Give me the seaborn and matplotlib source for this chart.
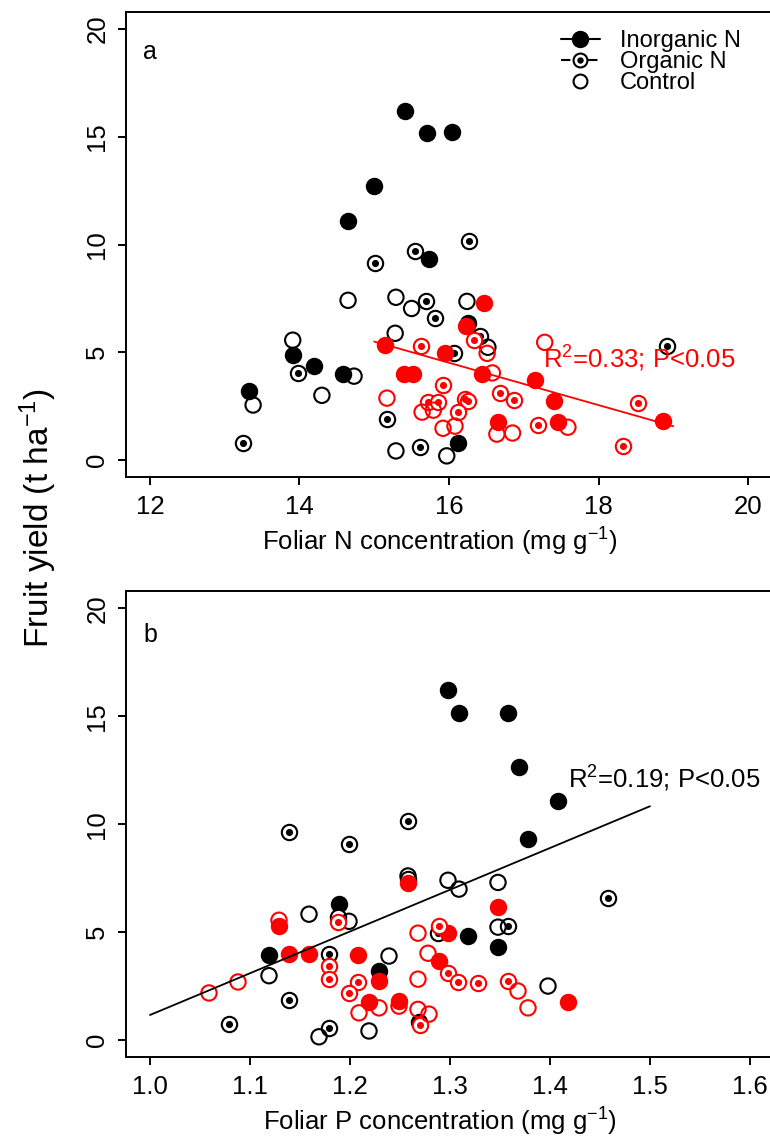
import numpy as np
import pandas as pd
import matplotlib
matplotlib.use("Agg")
import matplotlib.pyplot as plt
import seaborn as sns
from matplotlib.lines import Line2D
from matplotlib.legend_handler import HandlerTuple

# ---------------- data ----------------
# Panel a: foliar N (mg g-1) vs fruit yield (t ha-1)
a_blk_inorg_x = [15.41, 15.70, 16.04, 15.00, 14.65, 15.73, 13.91, 14.19, 14.58, 13.32, 16.12, 16.26]
a_blk_inorg_y = [16.2, 15.17, 15.2, 12.7, 11.1, 9.35, 4.86, 4.35, 3.98, 3.2, 0.79, 6.35]
a_blk_org_x = [16.27, 15.55, 15.01, 15.69, 15.81, 16.41, 16.07, 18.92, 13.98, 15.17, 13.25, 15.61]
a_blk_org_y = [10.15, 9.68, 9.13, 7.36, 6.58, 5.74, 4.98, 5.28, 4.02, 1.89, 0.78, 0.59]
a_blk_ctrl_x = [14.65, 15.29, 15.50, 16.24, 15.28, 13.91, 16.52, 14.73, 14.30, 13.38, 15.29, 15.97]
a_blk_ctrl_y = [7.41, 7.55, 7.03, 7.36, 5.88, 5.56, 5.23, 3.89, 3.0, 2.55, 0.42, 0.19]
a_red_inorg_x = [15.14, 15.95, 15.40, 15.52, 16.47, 16.23, 16.44, 17.15, 17.40, 16.66, 17.46, 18.86]
a_red_inorg_y = [5.35, 4.95, 4.0, 4.0, 7.3, 6.2, 3.98, 3.7, 2.74, 1.76, 1.76, 1.8]
a_red_org_x = [15.62, 15.92, 15.72, 15.85, 16.33, 16.68, 16.87, 16.22, 16.25, 16.12, 17.19, 18.53, 18.33]
a_red_org_y = [5.28, 3.47, 2.68, 2.69, 5.59, 3.12, 2.78, 2.85, 2.75, 2.22, 1.62, 2.64, 0.65]
a_red_ctrl_x = [15.17, 15.64, 15.79, 15.92, 16.08, 16.51, 16.58, 16.64, 16.85, 17.59, 17.28]
a_red_ctrl_y = [2.87, 2.22, 2.31, 1.47, 1.57, 4.95, 4.04, 1.2, 1.25, 1.52, 5.46]

# Panel b: foliar P (mg g-1) vs fruit yield (t ha-1)
b_blk_inorg_x = [1.298, 1.309, 1.358, 1.369, 1.408, 1.378, 1.189, 1.318, 1.348, 1.119, 1.229, 1.269]
b_blk_inorg_y = [16.2, 15.13, 15.13, 12.65, 11.06, 9.3, 6.3, 4.82, 4.3, 3.94, 3.2, 0.82]
b_blk_org_x = [1.258, 1.139, 1.199, 1.258, 1.188, 1.458, 1.358, 1.288, 1.179, 1.139, 1.079, 1.179]
b_blk_org_y = [10.14, 9.63, 9.1, 7.45, 5.69, 6.57, 5.28, 4.95, 3.98, 1.85, 0.75, 0.55]
b_blk_ctrl_x = [1.258, 1.298, 1.309, 1.348, 1.159, 1.199, 1.348, 1.239, 1.119, 1.398, 1.219, 1.169]
b_blk_ctrl_y = [7.6, 7.4, 6.99, 7.3, 5.83, 5.5, 5.23, 3.89, 2.98, 2.5, 0.42, 0.15]
b_red_inorg_x = [1.258, 1.129, 1.139, 1.159, 1.208, 1.229, 1.219, 1.249, 1.289, 1.298, 1.348, 1.418]
b_red_inorg_y = [7.26, 5.3, 3.98, 3.98, 3.94, 2.73, 1.77, 1.8, 3.66, 4.95, 6.17, 1.76]
b_red_org_x = [1.188, 1.179, 1.179, 1.208, 1.199, 1.270, 1.298, 1.289, 1.308, 1.328, 1.358]
b_red_org_y = [5.46, 3.43, 2.81, 2.69, 2.18, 0.7, 3.1, 5.28, 2.69, 2.64, 2.73]
b_red_ctrl_x = [1.129, 1.088, 1.059, 1.229, 1.209, 1.249, 1.268, 1.279, 1.268, 1.278, 1.268, 1.368, 1.378]
b_red_ctrl_y = [5.55, 2.69, 2.18, 1.49, 1.26, 1.57, 1.42, 1.2, 4.95, 4.02, 2.82, 2.27, 1.49]

# regression lines (slope, intercept, x range)
fit_a = {"slope": -0.983, "intercept": 20.24, "x_from": 15.0, "x_to": 19.0}
fit_b = {"slope": 19.34, "intercept": -18.18, "x_from": 1.0, "x_to": 1.5}

stat_a = "R$^2$=0.33; P<0.05"
stat_b = "R$^2$=0.19; P<0.05"

a_xticks = [12, 14, 16, 18, 20]
b_xticks = [1.0, 1.1, 1.2, 1.3, 1.4, 1.5, 1.6]
b_xticklabels = ["1.0", "1.1", "1.2", "1.3", "1.4", "1.5", "1.6"]
yticks = [0, 5, 10, 15, 20]
legend_labels = ["Inorganic N", "Organic N", "Control"]

# ---------------- style ----------------
sns.set_style("ticks")
plt.rcParams["font.family"] = ["Liberation Sans", "DejaVu Sans"]
plt.rcParams["mathtext.default"] = "regular"
for k in ("text.color", "axes.labelcolor", "xtick.color", "ytick.color", "axes.edgecolor"):
    plt.rcParams[k] = "black"

W, H = 770, 1136
fig = plt.figure(figsize=(W / 100, H / 100), dpi=100)


def frame(panel):
    rows = []
    for col in ("black", "red"):
        for trt in ("inorg", "org", "ctrl"):
            key = f"{panel}_{'blk' if col == 'black' else 'red'}_{trt}"
            xs = globals()[key + "_x"]
            ys = globals()[key + "_y"]
            for x, y in zip(xs, ys):
                rows.append({"conc": x, "yield": y, "treatment": trt, "colour": col})
    return pd.DataFrame(rows)


RING_S = 122
DOT_S = 26
LW = 1.5


def draw_points(ax, df):
    for col in ("black", "red"):
        sub = df[df["colour"] == col]
        f = sub[sub["treatment"] == "inorg"]
        sns.scatterplot(data=f, x="conc", y="yield", ax=ax, s=RING_S, color=col,
                        edgecolor=col, linewidth=LW, zorder=2, legend=False)
        o = sub[sub["treatment"] == "org"]
        sns.scatterplot(data=o, x="conc", y="yield", ax=ax, s=RING_S, color=col,
                        facecolor="white", edgecolor=col, linewidth=LW, zorder=2, legend=False)
        sns.scatterplot(data=o, x="conc", y="yield", ax=ax, s=DOT_S, color=col,
                        edgecolor=col, linewidth=0, zorder=2, legend=False)
        c = sub[sub["treatment"] == "ctrl"]
        sns.scatterplot(data=c, x="conc", y="yield", ax=ax, s=RING_S, color=col,
                        facecolor="none", edgecolor=col, linewidth=LW, zorder=2, legend=False)


def style_axes(ax):
    for sp in ax.spines.values():
        sp.set_visible(True)
        sp.set_linewidth(1.4)
        sp.set_color("black")
    ax.tick_params(axis="both", direction="out", length=6, width=1.4, labelsize=18.5,
                   color="black", labelcolor="black")
    ax.tick_params(axis="x", pad=7)
    ax.tick_params(axis="y", pad=6)
    ax.set_ylim(-0.8, 20.8)
    ax.set_yticks(yticks)
    ax.set_yticklabels([str(v) for v in yticks], rotation=90, va="center")
    ax.set_ylabel("")


# ---------- panel a ----------
ax_a = fig.add_axes([126 / W, 1 - 477.2 / H, 646 / W, 465.4 / H])
draw_points(ax_a, frame("a"))
xa = np.linspace(fit_a["x_from"], fit_a["x_to"], 50)
ax_a.plot(xa, fit_a["slope"] * xa + fit_a["intercept"], color="red", lw=1.3, zorder=3)
ax_a.set_xlim(11.68, 20.32)
ax_a.set_xticks(a_xticks)
ax_a.set_xticklabels([str(v) for v in a_xticks])
style_axes(ax_a)
ax_a.set_xlabel("Foliar N concentration (mg g$^{-1}$)", fontsize=18.5)
ax_a.xaxis.set_label_coords((440 - 126) / 646, -0.104)
ax_a.text(17.26, 4.26, stat_a, color="red", fontsize=18.5, ha="left", va="baseline", zorder=4)
ax_a.text(11.905, 18.6, "a", fontsize=18, ha="left", va="baseline")

# legend
h_inorg = Line2D([], [], color="black", lw=1.5, marker="o", markersize=11.5,
                 markerfacecolor="black", markeredgecolor="black")
h_org_line = Line2D([], [], color="black", lw=1.5, dashes=(4.5, 8.5))
h_org_ring = Line2D([], [], linestyle="none", marker="o", markersize=10,
                    markerfacecolor="white", markeredgecolor="black", markeredgewidth=1.5)
h_org_dot = Line2D([], [], linestyle="none", marker="o", markersize=4.6,
                   markerfacecolor="black", markeredgecolor="black", markeredgewidth=0)
h_ctrl = Line2D([], [], linestyle="none", marker="o", markersize=10,
                markerfacecolor="none", markeredgecolor="black", markeredgewidth=1.5)
ax_a.legend([h_inorg, (h_org_line, h_org_ring, h_org_dot), h_ctrl], legend_labels,
            handler_map={tuple: HandlerTuple(ndivide=1, pad=0)},
            loc="upper left", bbox_to_anchor=((561 - 126) / 646, 0.96),
            frameon=False, fontsize=17, handlelength=1.65, handletextpad=0.85,
            labelspacing=-0.05, borderpad=0, borderaxespad=0)

# ---------- panel b ----------
ax_b = fig.add_axes([126 / W, 1 - 1057.3 / H, 648 / W, 466.3 / H])
draw_points(ax_b, frame("b"))
xb = np.linspace(fit_b["x_from"], fit_b["x_to"], 50)
ax_b.plot(xb, fit_b["slope"] * xb + fit_b["intercept"], color="black", lw=1.3, zorder=3)
ax_b.set_xlim(0.976, 1.624)
ax_b.set_xticks(b_xticks)
ax_b.set_xticklabels(b_xticklabels)
style_axes(ax_b)
ax_b.set_xlabel("Foliar P concentration (mg g$^{-1}$)", fontsize=18.5)
ax_b.xaxis.set_label_coords((440 - 126) / 648, -0.104)
ax_b.text(1.418, 11.67, stat_b, color="black", fontsize=18.5, ha="left", va="baseline", zorder=4)
ax_b.text(0.993, 18.43, "b", fontsize=18, ha="left", va="baseline")

# shared y label
fig.text(38 / W, 1 - 518 / H, "Fruit yield (t ha$^{-1}$)", rotation=90,
         ha="center", va="center", fontsize=24)

fig.savefig("out.png", dpi=100)
